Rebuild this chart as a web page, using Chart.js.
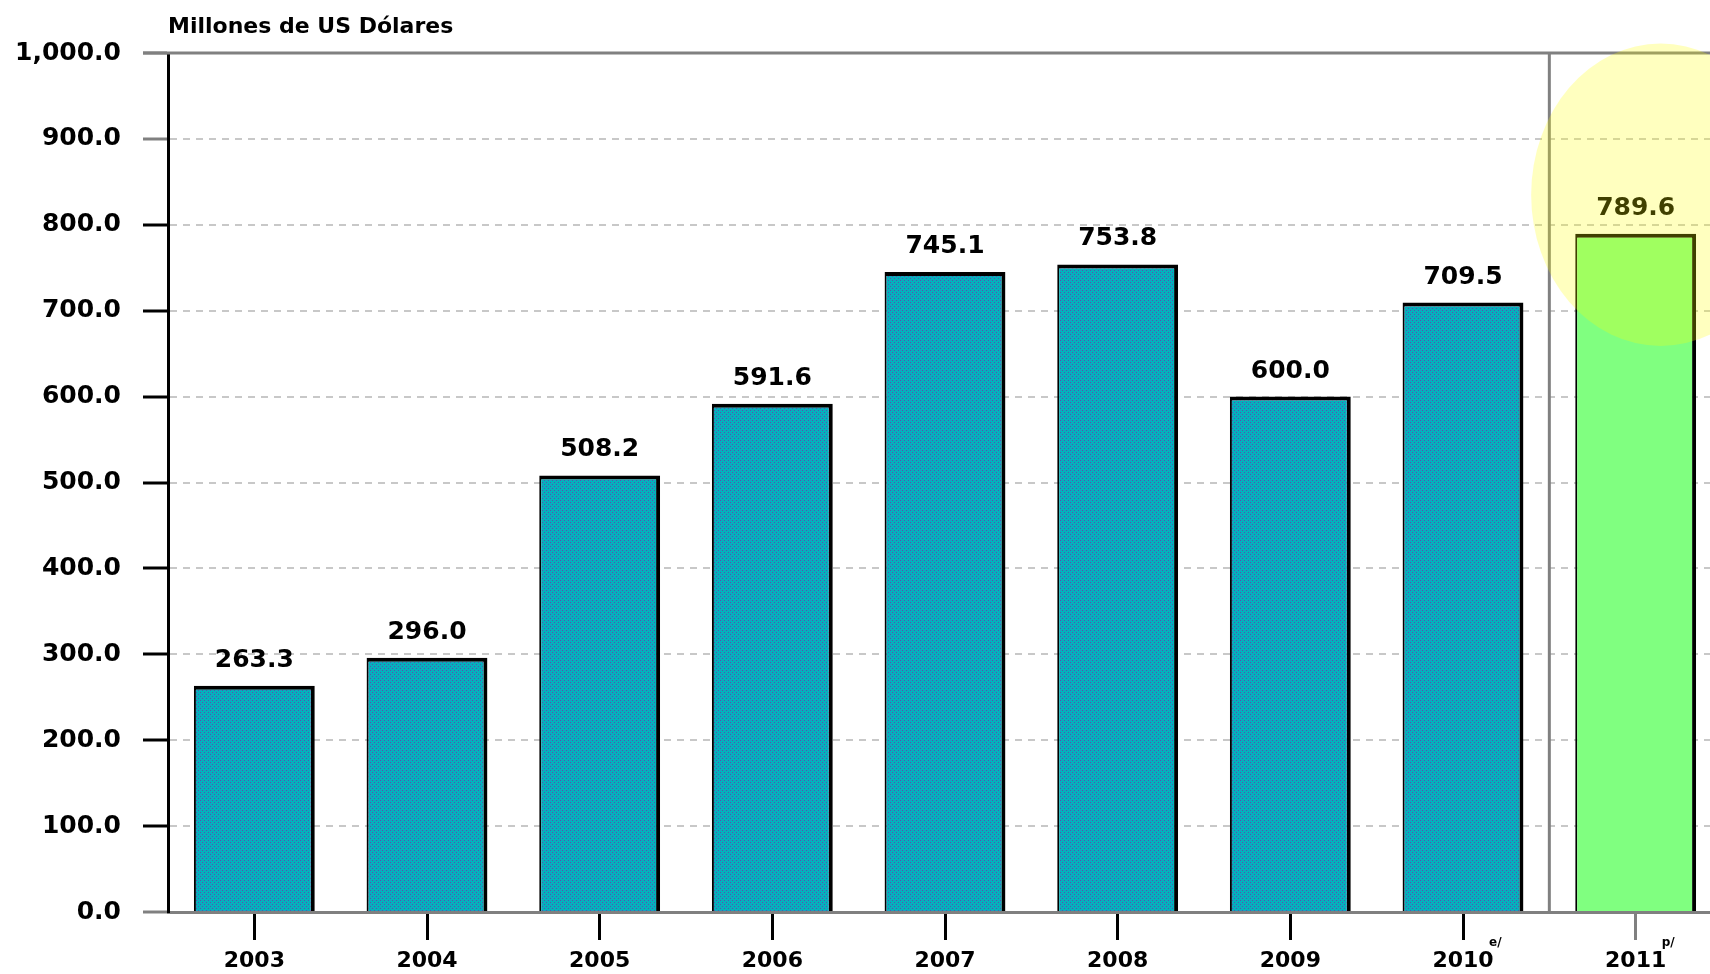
<!DOCTYPE html>
<html lang="es">
<head>
    <meta charset="UTF-8">
    <title>Millones de US Dólares</title>
    <script src="https://cdn.jsdelivr.net/npm/chart.js"></script>
    <style>
        html, body {
            margin: 0;
            padding: 0;
            background-color: #ffffff;
            overflow: hidden;
        }

        .chart-box {
            width: 1710px;
            height: 974px;
            overflow: hidden;
        }
    </style>
</head>
<body>
    <div class="chart-box">
        <canvas id="barChart" width="1722" height="974"></canvas>
    </div>

    <script>
        // Datos del gráfico
        const years = ['2003', '2004', '2005', '2006', '2007', '2008', '2009', '2010', '2011'];
        const values = [263.3, 296.0, 508.2, 591.6, 745.1, 753.8, 600.0, 709.5, 789.6];
        const yearNotes = ['', '', '', '', '', '', '', 'e/', 'p/'];
        const yTickValues = [0, 100, 200, 300, 400, 500, 600, 700, 800, 900, 1000];
        const unitLabel = 'Millones de US Dólares';

        const FONT = "'DejaVu Sans', Verdana, sans-serif";

        function formatNumber(v) {
            return Number(v).toLocaleString('en-US', { minimumFractionDigits: 1, maximumFractionDigits: 1 });
        }

        const ctx = document.getElementById('barChart').getContext('2d');

        // Trama de las barras (cian con puntos azules)
        function makePattern() {
            const c = document.createElement('canvas');
            c.width = 4;
            c.height = 4;
            const g = c.getContext('2d');
            g.fillStyle = '#00b4bc';
            g.fillRect(0, 0, 4, 4);
            g.fillStyle = '#5552b0';
            g.fillRect(0, 0, 1, 1);
            g.fillRect(2, 2, 1, 1);
            g.fillStyle = '#2a92c0';
            g.fillRect(2, 0, 1, 1);
            g.fillRect(0, 2, 1, 1);
            return ctx.createPattern(c, 'repeat');
        }
        const tealFill = makePattern();
        const lastIndex = values.length - 1;

        // Etiquetas, título, separador y círculo resaltado
        const extrasPlugin = {
            id: 'extras',
            afterDraw(chart) {
                const c = chart.ctx;
                const x = chart.scales.x;
                const y = chart.scales.y;
                const area = chart.chartArea;

                c.save();
                // línea superior
                c.strokeStyle = '#808080';
                c.lineWidth = 3;
                c.beginPath();
                const yTop = y.getPixelForValue(yTickValues[yTickValues.length - 1]);
                c.moveTo(area.left - 25, yTop);
                c.lineTo(area.right, yTop);
                c.stroke();

                // separador antes del último año
                const sepX = (x.getPixelForTick(lastIndex - 1) + x.getPixelForTick(lastIndex)) / 2;
                c.beginPath();
                c.moveTo(sepX, yTop);
                c.lineTo(sepX, area.bottom);
                c.stroke();

                // valores sobre las barras
                const meta = chart.getDatasetMeta(0);
                c.fillStyle = '#000';
                c.font = 'bold 25px ' + FONT;
                c.textAlign = 'center';
                c.textBaseline = 'alphabetic';
                meta.data.forEach((bar, i) => {
                    c.fillText(formatNumber(values[i]), bar.x, bar.y - 19);
                });

                // notas e/ p/
                c.font = 'bold 12px ' + FONT;
                c.textAlign = 'left';
                yearNotes.forEach((note, i) => {
                    if (note) {
                        c.fillText(note, x.getPixelForTick(i) + 26, area.bottom + 34);
                    }
                });

                // título
                c.font = 'bold 22px ' + FONT;
                c.fillText(unitLabel, area.left, 33);

                // círculo amarillo
                c.fillStyle = 'rgba(255, 255, 0, 0.25)';
                const cx = x.getPixelForTick(lastIndex) + 25;
                const cy = y.getPixelForValue(835);
                const rx = 0.75 * (x.getPixelForTick(1) - x.getPixelForTick(0));
                const ry = y.getPixelForValue(0) - y.getPixelForValue(176);
                c.beginPath();
                c.ellipse(cx, cy, rx, ry, 0, 0, Math.PI * 2);
                c.fill();
                c.restore();
            }
        };

        const barChartData = {
            labels: years,
            datasets: [{
                data: values,
                backgroundColor: values.map((v, i) => i === lastIndex ? '#80ff80' : tealFill),
                borderColor: '#000000',
                borderWidth: { top: 4, right: 4, left: 2, bottom: 0 },
                borderSkipped: 'start',
                barPercentage: 0.7,
                categoryPercentage: 1
            }]
        };

        const barChartConfig = {
            type: 'bar',
            data: barChartData,
            options: {
                responsive: false,
                animation: false,
                layout: {
                    padding: { top: 53, right: 0, bottom: 0, left: 0 }
                },
                plugins: {
                    legend: { display: false },
                    tooltip: { enabled: false }
                },
                scales: {
                    x: {
                        grid: {
                            offset: false,
                            drawOnChartArea: false,
                            tickLength: 28,
                            tickWidth: 3,
                            tickColor: c => c.index === lastIndex ? '#808080' : '#000000'
                        },
                        border: { color: '#808080', width: 3 },
                        ticks: {
                            color: '#000',
                            font: { family: FONT, size: 22, weight: 'bold' },
                            padding: 8,
                            maxRotation: 0
                        },
                        afterFit: s => { s.height = 62; }
                    },
                    y: {
                        min: 0,
                        max: 1000,
                        afterBuildTicks: s => { s.ticks = yTickValues.map(v => ({ value: v })); },
                        ticks: {
                            color: '#000',
                            font: { family: FONT, size: 25, weight: 'bold' },
                            padding: 22,
                            callback: v => formatNumber(v)
                        },
                        grid: {
                            color: c => (c.tick && (c.tick.value === 0 || c.tick.value === 1000)) ? 'rgba(0,0,0,0)' : '#c8c8c8',
                            lineWidth: 2,
                            tickLength: 25,
                            tickWidth: 3,
                            tickColor: c => (c.tick && (c.tick.value >= 900 || c.tick.value === 0)) ? '#808080' : '#000000'
                        },
                        border: { color: '#000000', width: 3, dash: [7, 6] },
                        afterFit: s => { s.width = 168; }
                    }
                }
            },
            plugins: [extrasPlugin]
        };

        new Chart(ctx, barChartConfig);
    </script>
</body>
</html>
